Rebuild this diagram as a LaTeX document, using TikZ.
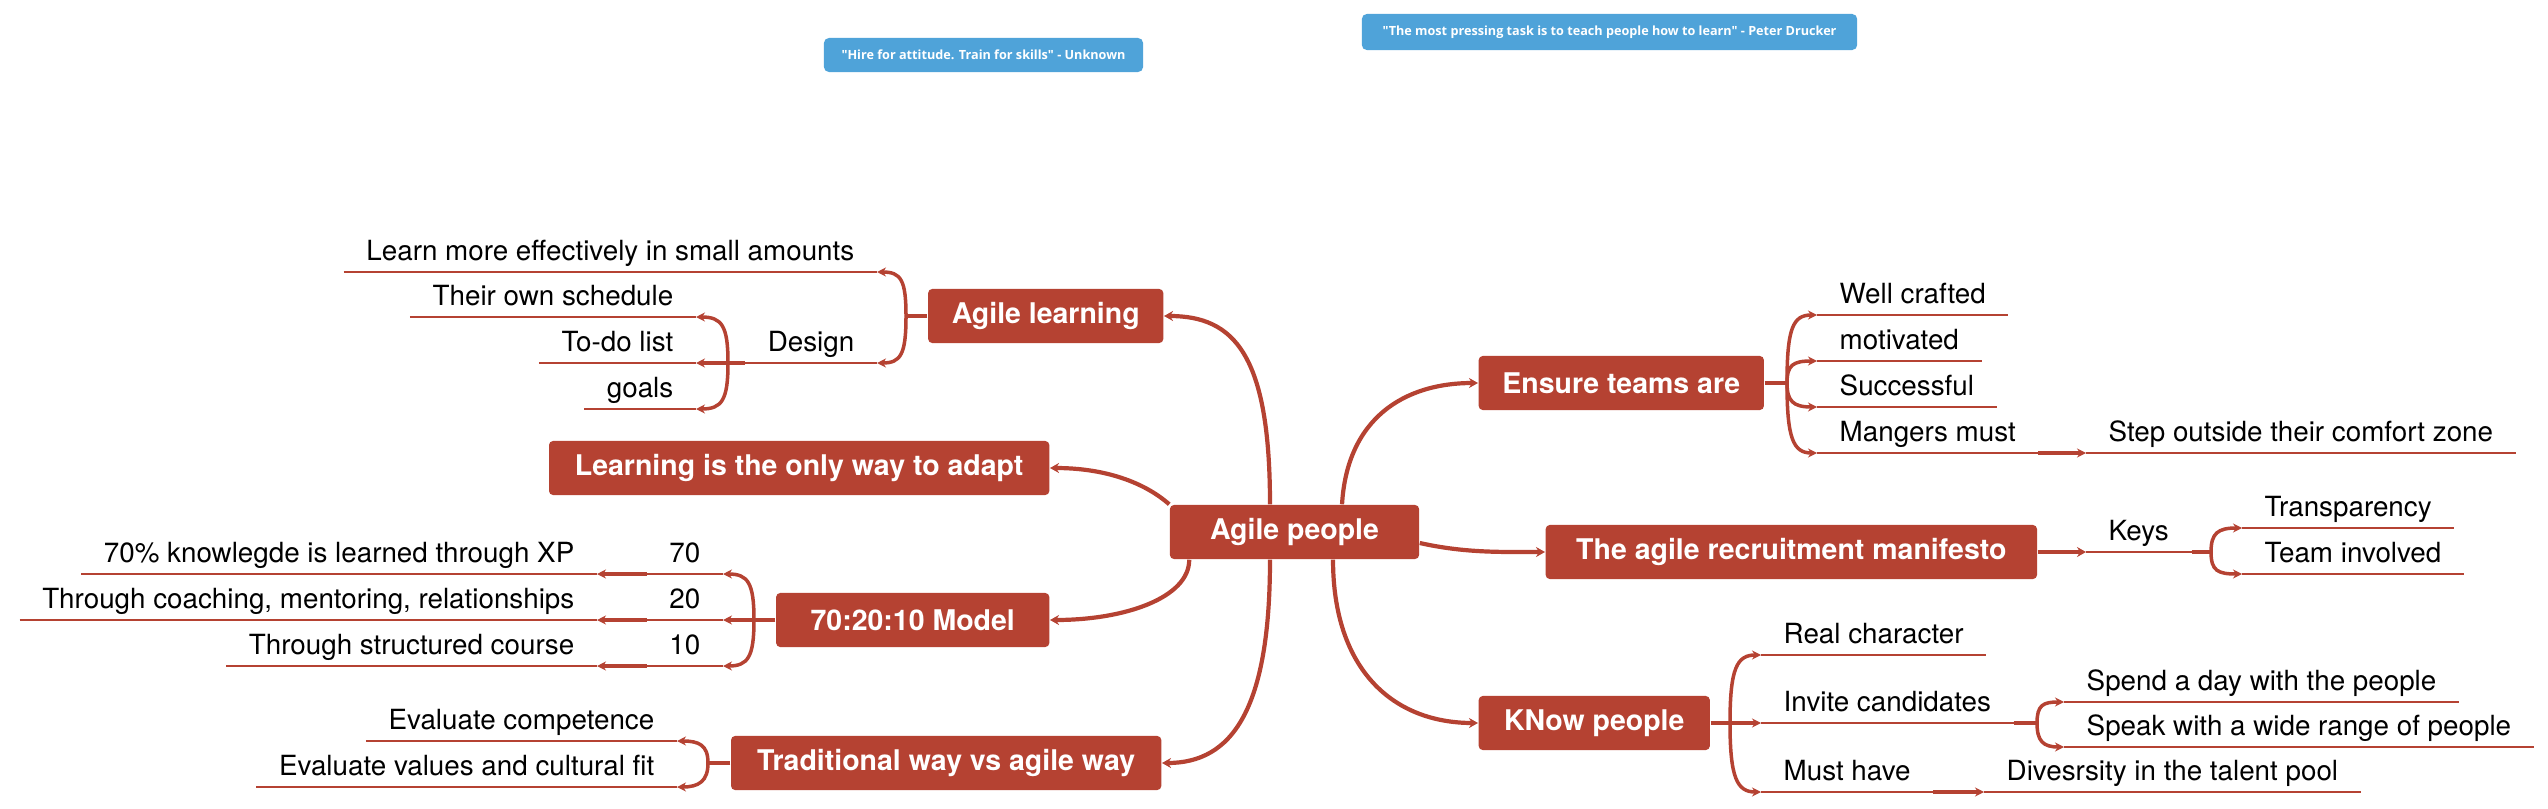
\documentclass[tikz,border=0pt]{standalone}
\usepackage{fontspec}
\setmainfont{TeX Gyre Heros}
\newfontfamily\quotefont{Open Sans}
\usetikzlibrary{arrows.meta}
\definecolor{mapred}{HTML}{B54232}
\definecolor{quoteblue}{HTML}{4FA3D9}

\begin{document}
\begin{tikzpicture}[x=0.01cm,y=-0.01cm,
	topic/.style={fill=mapred,text=white,rounded corners=0.04cm,minimum height=0.54cm,inner xsep=0.2cm,font=\fontsize{8.1}{10}\selectfont\bfseries},
	quote/.style={fill=quoteblue,text=white,rounded corners=0.05cm,minimum height=0.34cm,font=\quotefont\fontsize{3.6}{4.4}\selectfont\bfseries},
	leafline/.style={draw=mapred,line width=0.018cm},
	leaf/.style={inner xsep=0.22cm,inner ysep=0pt,text depth=0.11cm,font=\fontsize{7.9}{9}\selectfont,
		append after command={(\tikzlastnode.south west) edge[leafline] (\tikzlastnode.south east)}},
	branch/.style={draw=mapred,line width=0.042cm,-{Stealth[length=0.09cm,width=0.1cm]}},
	bracket/.style={draw=mapred,line width=0.035cm,-{Stealth[length=0.09cm,width=0.09cm]}},
	stub/.style={draw=mapred,line width=0.042cm}]
		\useasboundingbox (0,0) rectangle (2548,809);
		% quotes
		\node[quote,minimum width=3.19cm] (hire) at (983.5,55) {"Hire for attitude. Train for skills" - Unknown};
		\node[quote,minimum width=4.95cm] (drucker) at (1609.5,32) {"The most pressing task is to teach people how to learn" - Peter Drucker};
		% main topics
		\node[topic,minimum width=2.49cm] (agile) at (1294.5,532) {Agile people};
		\node[topic,minimum width=2.35cm,anchor=east] (learn) at (1164,316) {Agile learning};
		\node[topic,minimum width=5cm,anchor=east] (adapt) at (1050,468) {Learning is the only way to adapt};
		\node[topic,minimum width=2.73cm,anchor=east] (model) at (1050,620) {70:20:10 Model};
		\node[topic,minimum width=4.3cm,anchor=east] (trad) at (1162,763) {Traditional way vs agile way};
		\node[topic,minimum width=2.85cm,anchor=west] (ensure) at (1478,383) {Ensure teams are};
		\node[topic,minimum width=4.91cm,anchor=west] (manif) at (1545,552) {The agile recruitment manifesto};
		\node[topic,minimum width=2.31cm,anchor=west] (know) at (1478,723) {KNow people};
		\draw[branch] ([xshift=-0.245cm]agile.north) .. controls +(0,-150) and +(70,0) .. (learn.east);
		\draw[branch] ([xshift=0.475cm]agile.north) .. controls +(5,-85) and +(-75,0) .. (ensure.west);
		\draw[branch] (agile.north west) .. controls +(-25,-22) and +(55,0) .. (adapt.east);
		\draw[branch] ([xshift=0.2cm]agile.south west) .. controls +(0,38) and +(75,0) .. (model.east);
		\draw[branch] ([xshift=-0.245cm]agile.south) .. controls +(0,150) and +(70,0) .. (trad.east);
		\draw[branch] ([xshift=0.385cm]agile.south) .. controls +(0,110) and +(-85,0) .. (know.west);
		\draw[branch] ([yshift=-0.11cm]agile.east) .. controls +(45,10) and +(-45,0) .. (manif.west);
		% agile learning
		\coordinate (jL) at (906,316);
		\draw[stub] (learn.west) -- (jL);
		\node[leaf,anchor=south east] (small) at (877,272) {Learn more effectively in small amounts};
		\node[leaf,anchor=south east] (design) at (877,363) {Design};
		\draw[bracket] (jL) .. controls +(0,-36) and +(24,0) .. (small.south east);
		\draw[bracket] (jL) .. controls +(0,38) and +(24,0) .. (design.south east);
		\coordinate (jD) at (728,363);
		\draw[stub] (design.south west) -- (jD);
		\node[leaf,anchor=south east] (schedule) at (696,317) {Their own schedule};
		\node[leaf,anchor=south east] (todo) at (696,363) {To-do list};
		\node[leaf,anchor=south east] (goals) at (696,409) {goals};
		\draw[bracket] (jD) .. controls +(0,-37) and +(26,0) .. (schedule.south east);
		\draw[bracket] (jD) -- (todo.south east);
		\draw[bracket] (jD) .. controls +(0,37) and +(26,0) .. (goals.south east);
		% 70:20:10
		\coordinate (jM) at (754,620);
		\draw[stub] (model.west) -- (jM);
		\node[leaf,anchor=south east] (p70) at (723,574) {70};
		\node[leaf,anchor=south east] (p20) at (723,620) {20};
		\node[leaf,anchor=south east] (p10) at (723,666) {10};
		\draw[bracket] (jM) .. controls +(0,-37) and +(25,0) .. (p70.south east);
		\draw[bracket] (jM) -- (p20.south east);
		\draw[bracket] (jM) .. controls +(0,37) and +(25,0) .. (p10.south east);
		\node[leaf,anchor=south east] (xp) at (597,574) {70\% knowlegde is learned through XP};
		\node[leaf,anchor=south east] (coach) at (597,620) {Through coaching, mentoring, relationships};
		\node[leaf,anchor=south east] (course) at (597,666) {Through structured course};
		\draw[bracket] (p70.south west) -- (xp.south east);
		\draw[bracket] (p20.south west) -- (coach.south east);
		\draw[bracket] (p10.south west) -- (course.south east);
		% traditional way
		\coordinate (jT) at (708,763);
		\draw[stub] (trad.west) -- (jT);
		\node[leaf,anchor=south east] (compet) at (677,741) {Evaluate competence};
		\node[leaf,anchor=south east] (values) at (677,787) {Evaluate values and cultural fit};
		\draw[bracket] (jT) .. controls +(0,-18) and +(22,0) .. (compet.south east);
		\draw[bracket] (jT) .. controls +(0,18) and +(22,0) .. (values.south east);
		% ensure teams
		\coordinate (jE) at (1787,383);
		\draw[stub] (ensure.east) -- (jE);
		\node[leaf,anchor=south west] (crafted) at (1817,315) {Well crafted};
		\node[leaf,anchor=south west] (motiv) at (1817,361) {motivated};
		\node[leaf,anchor=south west] (success) at (1817,407) {Successful};
		\node[leaf,anchor=south west] (mangers) at (1817,453) {Mangers must};
		\draw[bracket] (jE) .. controls +(0,-55) and +(-24,0) .. (crafted.south west);
		\draw[bracket] (jE) .. controls +(0,-18) and +(-24,0) .. (motiv.south west);
		\draw[bracket] (jE) .. controls +(0,18) and +(-24,0) .. (success.south west);
		\draw[bracket] (jE) .. controls +(0,55) and +(-24,0) .. (mangers.south west);
		\node[leaf,anchor=south west] (comfort) at (2086,453) {Step outside their comfort zone};
		\draw[bracket] (mangers.south east) -- (comfort.south west);
		% manifesto
		\node[leaf,anchor=south west] (keys) at (2086,552) {Keys};
		\draw[branch] (manif.east) -- (keys.south west);
		\coordinate (jK) at (2211,552);
		\draw[stub] (keys.south east) -- (jK);
		\node[leaf,anchor=south west] (transp) at (2242,528) {Transparency};
		\node[leaf,anchor=south west] (team) at (2242,574) {Team involved};
		\draw[bracket] (jK) .. controls +(0,-19) and +(-24,0) .. (transp.south west);
		\draw[bracket] (jK) .. controls +(0,19) and +(-24,0) .. (team.south west);
		% know people
		\coordinate (jN) at (1730,723);
		\draw[stub] (know.east) -- (jN);
		\node[leaf,anchor=south west] (real) at (1761,655) {Real character};
		\node[leaf,anchor=south west] (invite) at (1761,723) {Invite candidates};
		\node[leaf,anchor=south west] (must) at (1761,792) {Must have};
		\draw[bracket] (jN) .. controls +(0,-55) and +(-24,0) .. (real.south west);
		\draw[bracket] (jN) -- (invite.south west);
		\draw[bracket] (jN) .. controls +(0,55) and +(-24,0) .. (must.south west);
		\coordinate (jI) at (2037,723);
		\draw[stub] (invite.south east) -- (jI);
		\node[leaf,anchor=south west] (spend) at (2064,702) {Spend a day with the people};
		\node[leaf,anchor=south west] (range) at (2064,747) {Speak with a wide range of people};
		\draw[bracket] (jI) .. controls +(0,-18) and +(-21,0) .. (spend.south west);
		\draw[bracket] (jI) .. controls +(0,18) and +(-21,0) .. (range.south west);
		\node[leaf,anchor=south west] (diverse) at (1984,792) {Divesrsity in the talent pool};
		\draw[bracket] (must.south east) -- (diverse.south west);
\end{tikzpicture}
\end{document}
